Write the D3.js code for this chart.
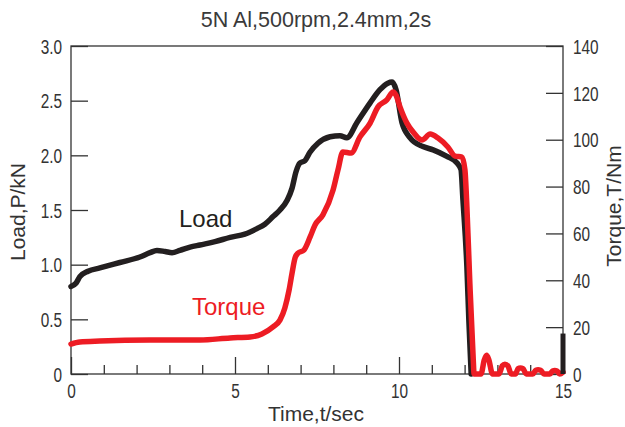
<!DOCTYPE html>
<html><head><meta charset="utf-8">
<script src="https://cdn.jsdelivr.net/npm/d3@7/dist/d3.min.js"></script>
<style>
html,body{margin:0;padding:0;background:#fff;}
svg{display:block;}
.tick text{font-family:"Liberation Sans",Arial,sans-serif;font-size:20.5px;fill:#333;}
</style></head>
<body><svg id="c" width="625" height="427"></svg>
<script>
const title = "5N Al,500rpm,2.4mm,2s";
const xTicks = [0, 5, 10, 15];
const xMinorTicks = [1,2,3,4,6,7,8,9,11,12,13,14];
const loadTicks = [0, 0.5, 1.0, 1.5, 2.0, 2.5, 3.0];
const loadTickLabels = ["0","0.5","1.0","1.5","2.0","2.5","3.0"];
const torqueTicks = [0, 20, 40, 60, 80, 100, 120, 140];

// Load, kN
const loadTime = [0,0.15,0.27,0.52,0.88,1.49,2.10,2.41,2.62,2.87,3.08,3.32,3.63,3.93,4.39,4.85,5.30,5.67,5.91,6.16,6.37,6.59,6.74,6.86,6.98,7.13,7.29,7.53,7.90,8.20,8.41,8.72,9.12,9.42,9.66,9.79,9.91,10.09,10.34,10.73,11.04,11.46,11.77,11.89,11.95,12.07,12.13,12.20];
const loadValue = [0.80,0.83,0.89,0.94,0.97,1.02,1.07,1.11,1.13,1.12,1.11,1.13,1.16,1.18,1.21,1.25,1.28,1.33,1.37,1.44,1.50,1.59,1.70,1.85,1.93,1.95,2.03,2.11,2.17,2.18,2.16,2.30,2.48,2.60,2.66,2.67,2.60,2.30,2.16,2.08,2.05,1.99,1.93,1.87,1.59,0.98,0.49,0];
const loadSpikeTime = [15, 15];
const loadSpikeValue = [0, 0.37];

// Torque, Nm
const torqueTime = [0,0.27,0.88,2.41,3.93,4.85,5.46,5.82,6.16,6.37,6.52,6.65,6.74,6.83,6.92,7.10,7.29,7.44,7.68,7.99,8.14,8.29,8.54,8.81,9.12,9.36,9.63,9.82,9.91,10.03,10.24,10.43,10.70,10.95,11.19,11.49,11.71,11.92,12.01,12.07,12.16,12.26,12.29,
  12.50,12.60,12.67,12.74,12.85,13.05,13.15,13.23,13.32,13.42,13.55,13.63,13.70,13.78,13.88,14.08,14.17,14.24,14.32,14.42,14.60,14.68,14.75,14.82,14.90,15.0];
const torqueValue = [12.8,13.7,14.1,14.5,14.5,15.4,15.8,17.1,20.1,23.0,28.2,35.9,43.1,49.5,51.6,52.9,58.5,63.6,67.9,78.5,87.1,94.8,94.3,101.2,107.1,114.0,117.0,120.4,119,114,107.1,103.3,99.9,102.4,100.7,96.9,93.0,92.6,87.1,71.3,38.8,7.3,0,
  0,6,8,6,0,0,3.5,4.2,3.5,0,0,2.3,2.6,2.3,0,0,1.6,1.8,1.6,0,0,1.3,1.5,1.3,0,0.8];

const svg = d3.select("#c");
const L = 71, R = 563, T = 46, B = 374;
const x = d3.scaleLinear().domain([0, 15]).range([L, R]);
const yL = d3.scaleLinear().domain([0, 3]).range([B, T]);
const yR = d3.scaleLinear().domain([0, 140]).range([B, T]);
const ink = "#333";
const black = "#231f20", red = "#ed1c24";
const sans = "'Liberation Sans', Arial, sans-serif";
const squeeze = 0.75;

// title
svg.append("text").attr("x", 316).attr("y", 27).attr("text-anchor", "middle")
  .attr("font-family", sans).attr("font-size", 21.5).attr("fill", "#3a3a3a").text(title);

// axes
const gx = svg.append("g").attr("transform", `translate(0,${B})`)
  .call(d3.axisBottom(x).tickValues(xTicks).tickFormat(d3.format("d")).tickSizeInner(-17).tickSizeOuter(0).tickPadding(20));
const gxm = svg.append("g").attr("transform", `translate(0,${B})`)
  .call(d3.axisBottom(x).tickValues(xMinorTicks).tickFormat("").tickSizeInner(-9).tickSizeOuter(0));
const gl = svg.append("g").attr("transform", `translate(${L},0)`)
  .call(d3.axisLeft(yL).tickValues(loadTicks).tickFormat((d, i) => loadTickLabels[i]).tickSizeInner(-17).tickSizeOuter(0).tickPadding(9));
const gr = svg.append("g").attr("transform", `translate(${R},0)`)
  .call(d3.axisRight(yR).tickValues(torqueTicks).tickFormat(d3.format("d")).tickSizeInner(-17).tickSizeOuter(0).tickPadding(10));
[gx, gxm, gl, gr].forEach(g => {
  g.select(".domain").remove();
  g.selectAll(".tick line").attr("stroke", ink).attr("stroke-width", 1.3);
});
gx.selectAll(".tick text").attr("dy", "0.2em").attr("transform", `scale(${squeeze},1)`);
gl.selectAll(".tick text").attr("dy", "0.35em").attr("x", -9 / squeeze).attr("transform", `scale(${squeeze},1)`);
gr.selectAll(".tick text").attr("dy", "0.35em").attr("x", 10 / squeeze).attr("transform", `scale(${squeeze},1)`);

svg.append("rect").attr("x", L).attr("y", T).attr("width", R - L).attr("height", B - T)
  .attr("fill", "none").attr("stroke", ink).attr("stroke-width", 1.3);

// axis titles
svg.append("text").attr("x", 316).attr("y", 421).attr("text-anchor", "middle")
  .attr("font-family", sans).attr("font-size", 21).attr("fill", ink).text("Time,t/sec");
svg.append("text").attr("transform", "translate(25,212) rotate(-90)").attr("text-anchor", "middle")
  .attr("font-family", sans).attr("font-size", 21).attr("fill", ink).text("Load,P/kN");
svg.append("text").attr("transform", "translate(621,206) rotate(-90)").attr("text-anchor", "middle")
  .attr("font-family", sans).attr("font-size", 21).attr("fill", ink).text("Torque,T/Nm");

// lines
const loadData = loadTime.map((t, i) => ({t, v: loadValue[i]}));
const spikeData = loadSpikeTime.map((t, i) => ({t, v: loadSpikeValue[i]}));
const torqueData = torqueTime.map((t, i) => ({t, v: torqueValue[i]}));

const lineL = d3.line().x(d => x(d.t)).y(d => yL(d.v)).curve(d3.curveMonotoneX);
const lineR = d3.line().x(d => x(d.t)).y(d => yR(d.v)).curve(d3.curveMonotoneX);
const lineS = d3.line().x(d => x(d.t)).y(d => yL(d.v));

svg.append("path").datum(loadData).attr("d", lineL).attr("fill", "none")
  .attr("stroke", black).attr("stroke-width", 5.5).attr("stroke-linejoin", "round").attr("stroke-linecap", "round");
svg.append("path").datum(torqueData).attr("d", lineR).attr("fill", "none")
  .attr("stroke", red).attr("stroke-width", 5.5).attr("stroke-linejoin", "round").attr("stroke-linecap", "round");
svg.append("path").datum(spikeData).attr("d", lineS).attr("fill", "none")
  .attr("stroke", black).attr("stroke-width", 5);

// series labels
svg.append("text").attr("x", 179).attr("y", 227).attr("font-family", sans).attr("font-size", 24)
  .attr("fill", black).text("Load");
svg.append("text").attr("x", 192).attr("y", 315).attr("font-family", sans).attr("font-size", 24)
  .attr("fill", red).text("Torque");
</script></body></html>
